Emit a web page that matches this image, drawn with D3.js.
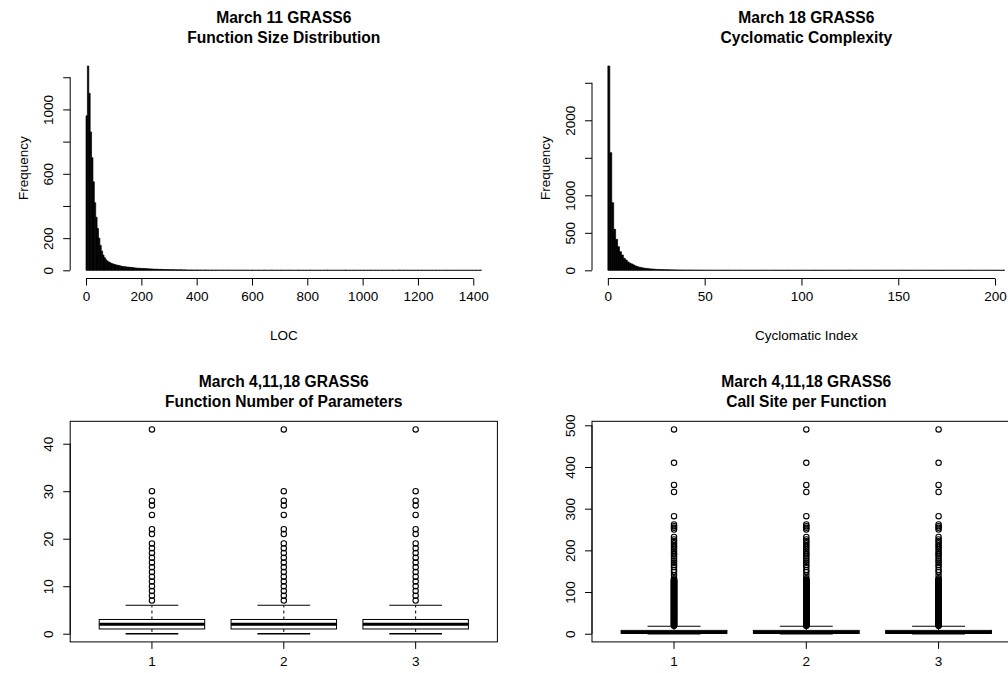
<!DOCTYPE html>
<html><head><meta charset="utf-8">
<script src="https://cdn.jsdelivr.net/npm/d3@7"></script>
<style>
body{margin:0;background:#fff;}
svg{display:block;font-family:"Liberation Sans",Arial,Helvetica,sans-serif;}
</style></head><body>
<svg id="c" width="1008" height="673"></svg>
<script>
// ---------- DATA ----------
// Panel 1: March 11 GRASS6, function size (LOC) histogram, bin width 5
const locBinWidth = 5;
const locCounts = [
 960,1270,1100,860,700,550,420,330,260,200,155,120,95,78,66,
 58,52,47,43,40,37,34,32,30,28,26,24,23,22,21,
 20,19,18,17,16,15,14,13,13,12,
 12,11,11,10,10,9,9,8,8,7,
 7,7,6,6,6,5,5,5,5,4,
 4,4,4,4,3,3,3,3,3,3,2,3,2,2,2,2,2,2,1,2,
 2,1,2,1,1,1,2,1,1,1,1,1,0,1,1,1,0,1,1,0,
 1,0,1,1,0,1,0,0,1,0,1,0,0,1,0,0,1,0,0,0,1,0,0,0,1,0,0,0,0,1,0,0,0,0,1,0,0,0,0,0,
 0,1,0,0,0,0,0,1,0,0, 0,0,0,1,0,0,0,0,0,0, 0,0,1,0,0,0,0,0,0,0, 0,0,0,0,1,0,0,0,0,0, 0,0,0,0,0,0,0,1,0,0, 0,0,0,0,0,0,0,0,0,0,
 0,0,0,0,0,1,0,0,0,0, 0,0,0,0,0,0,0,0,0,0, 0,0,0,0,0,0,1,0,0,0, 0,0,0,0,0,0,0,0,0,0, 0,0,0,0,0,0,0,0,0,0, 0,0,0,0,0,0,0,0,0,0, 0,0,0,0,0,0,0,0,0,0, 0,0,0,0,0,0,0,0,0,0, 0,0,0,0,0,1
];
const locXTicks = [0,200,400,600,800,1000,1200,1400];
const locYTicks = [0,200,400,600,800,1000,1200];
const locYLabels = [0,200,600,1000];

// Panel 2: March 18 GRASS6, cyclomatic complexity histogram, bin width 1
const ccBinWidth = 1;
const ccCounts = [
 2724,1568,901,547,413,315,248,204,160,137,111,95,84,70,57,48,40,35,30,26,
 23,20,18,16,14,12,11,10,9,8,8,7,6,6,5,5,4,4,4,3,
 3,3,3,2,2,2,2,2,1,2,1,1,1,1,1,1,0,1,1,0,
 1,0,1,0,0,1,0,0,1,0, 0,1,0,0,0,1,0,0,0,0, 1,0,0,0,0,0,1,0,0,0, 0,0,0,1,0,0,0,0,0,0,
 0,0,0,0,0,0,1,0,0,0, 0,0,0,0,0,0,0,0,0,0, 0,0,0,0,0,1,0,0,0,0, 0,0,0,0,0,0,0,0,0,0,
 0,0,0,0,0,0,0,0,0,0, 0,0,0,0,0,0,0,0,0,0, 0,0,0,0,0,0,0,0,0,0, 0,0,0,0,0,0,0,0,0,0,
 0,0,0,0,0,0,0,0,0,0, 0,0,0,0,0,0,0,0,0,0, 0,0,0,0,1
];
const ccXTicks = [0,50,100,150,200];
const ccYTicks = [0,500,1000,1500,2000,2500];
const ccYLabels = [0,500,1000,2000];

// Panel 3: number of parameters, boxplots for March 4, 11, 18
const boxGroups = ["1","2","3"];
const paramStats = [[0,1,2,3,6],[0,1,2,3,6],[0,1,2,3,6]]; // whiskerLow, Q1, median, Q3, whiskerHigh
const paramOutliers = [7,8,9,10,11,12,13,14,15,16,17,18,19,21,22,25,27,28,30,43];
const paramYTicks = [0,10,20,30,40];

// Panel 4: call sites per function, boxplots
const callStats = [[0,1,3,8,18],[0,1,3,8,18],[0,1,3,8,18]];
const callOutliers = [
 19,20,21,22,23,24,25,26,27,28,29,30,31,32,33,34,35,36,37,38,39,40,41,42,43,44,45,46,47,48,49,50,
 51,52,53,54,55,56,57,58,59,60,61,62,63,64,65,66,67,68,69,70,71,72,73,74,75,76,77,78,79,80,
 81,82,83,84,85,86,87,88,89,90,91,92,93,94,95,96,97,98,99,100,101,102,103,104,105,106,107,108,109,110,
 111,112,113,114,115,116,117,118,119,120,121,122,123,124,125,126,127,128,129,130,
 133,140,148,153,160,165,170,175,180,185,190,193,198,203,208,212,217,222,226,232,
 250,254,258,262,282,340,357,410,490
];
const callYTicks = [0,100,200,300,400,500];

// ---------- LAYOUT ----------
const svg = d3.select("#c");
const cols = [[70.2,497.4],[592,1020.6]];
const rows = [[57.8,278.5],[421.3,641.9]];
const FS = 13.5, TFS = 15.6;
const ink = "#000";

function rScale(lo, hi, r0, r1){
  const p = 0.04*(hi-lo);
  return d3.scaleLinear().domain([lo-p, hi+p]).range([r0, r1]);
}

function titles(cx, top, l1, l2){
  svg.append("text").attr("x",cx).attr("y",top-34.8).attr("text-anchor","middle")
    .attr("font-size",TFS).attr("font-weight","bold").text(l1);
  svg.append("text").attr("x",cx).attr("y",top-14.8).attr("text-anchor","middle")
    .attr("font-size",TFS).attr("font-weight","bold").text(l2);
}

function xAxis(x, yPos, ticks, fmt){
  const ax = d3.axisBottom(x).tickValues(ticks).tickSize(7).tickPadding(6.3).tickFormat(fmt||(d=>d));
  const g = svg.append("g").attr("transform",`translate(0,${yPos})`).call(ax);
  g.select(".domain").remove();
  g.selectAll("line").attr("stroke",ink);
  g.selectAll("text").attr("font-size",FS).attr("font-family",null).attr("fill",ink);
  g.append("line").attr("x1",x(ticks[0])).attr("x2",x(ticks[ticks.length-1]))
    .attr("y1",0).attr("y2",0).attr("stroke",ink);
  return g;
}

function yAxis(y, xPos, ticks, labels){
  const ax = d3.axisLeft(y).tickValues(ticks).tickSize(7)
    .tickFormat(d => labels.includes(d) ? d : "");
  const g = svg.append("g").attr("transform",`translate(${xPos},0)`).call(ax);
  g.select(".domain").remove();
  g.selectAll("line").attr("stroke",ink);
  g.selectAll("text").attr("font-size",FS).attr("font-family",null).attr("fill",ink)
    .attr("transform","rotate(-90)").attr("x",0).attr("y",-17).attr("dy",0)
    .attr("text-anchor","middle");
  g.append("line").attr("y1",y(ticks[0])).attr("y2",y(ticks[ticks.length-1]))
    .attr("x1",0).attr("x2",0).attr("stroke",ink);
  return g;
}

function hist(ci, ri, counts, bw, xTicks, yTicks, yLabels, t1, t2, xlab){
  const [L,R] = cols[ci], [T,B] = rows[ri];
  const x = rScale(0, counts.length*bw, L, R);
  const y = rScale(0, d3.max(counts), B, T);
  svg.append("g").selectAll("path").data(counts).join("path")
    .attr("d",(c,i)=>{
      const x0=x(i*bw), x1=x((i+1)*bw), y0=y(0), y1=y(c);
      return `M${x0},${y0}V${y1}H${x1}V${y0}Z`;
    })
    .attr("fill",ink).attr("stroke",ink).attr("stroke-width",0.7);
  xAxis(x, B, xTicks);
  yAxis(y, L, yTicks, yLabels);
  titles((L+R)/2, T, t1, t2);
  svg.append("text").attr("x",(L+R)/2).attr("y",B+61).attr("text-anchor","middle")
    .attr("font-size",FS).text(xlab);
  svg.append("text").attr("transform",`translate(${L-42},${(T+B)/2}) rotate(-90)`)
    .attr("text-anchor","middle").attr("font-size",FS).text("Frequency");
}

function boxes(ci, ri, stats, outliers, yTicks, t1, t2){
  const [L,R] = cols[ci], [T,B] = rows[ri];
  const x = rScale(0.5, 3.5, L, R);
  const ymax = d3.max([d3.max(outliers), d3.max(stats, s=>s[4])]);
  const y = rScale(0, ymax, B, T);
  const xb = d3.scaleBand().domain(boxGroups).range([x(0.5), x(3.5)]);
  const hw = 0.4*(x(1)-x(0)), cw = 0.2*(x(1)-x(0));
  stats.forEach((s,i)=>{
    const cx = xb(boxGroups[i]) + xb.bandwidth()/2;
    const g = svg.append("g");
    g.append("line").attr("x1",cx).attr("x2",cx).attr("y1",y(s[3])).attr("y2",y(s[4]))
      .attr("stroke",ink).attr("stroke-dasharray","3,3");
    g.append("line").attr("x1",cx).attr("x2",cx).attr("y1",y(s[1])).attr("y2",y(s[0]))
      .attr("stroke",ink).attr("stroke-dasharray","3,3");
    g.append("line").attr("x1",cx-cw).attr("x2",cx+cw).attr("y1",y(s[4])).attr("y2",y(s[4])).attr("stroke",ink).attr("stroke-width",1.2);
    g.append("line").attr("x1",cx-cw).attr("x2",cx+cw).attr("y1",y(s[0])).attr("y2",y(s[0])).attr("stroke",ink).attr("stroke-width",1.6);
    g.append("rect").attr("x",cx-hw).attr("width",2*hw).attr("y",y(s[3])).attr("height",y(s[1])-y(s[3]))
      .attr("fill","#fff").attr("stroke",ink);
    g.append("line").attr("x1",cx-hw).attr("x2",cx+hw).attr("y1",y(s[2])).attr("y2",y(s[2]))
      .attr("stroke",ink).attr("stroke-width",3);
    g.selectAll("circle").data(outliers).join("circle")
      .attr("cx",cx).attr("cy",d=>y(d)).attr("r",2.7)
      .attr("fill","none").attr("stroke",ink).attr("stroke-width",1.1);
  });
  svg.append("rect").attr("x",L).attr("y",T).attr("width",R-L).attr("height",B-T)
    .attr("fill","none").attr("stroke",ink);
  const xg = svg.append("g").attr("transform",`translate(0,${B})`)
    .call(d3.axisBottom(xb).tickSize(7).tickPadding(7.5));
  xg.select(".domain").remove();
  xg.selectAll("line").attr("stroke",ink);
  xg.selectAll("text").attr("font-size",FS).attr("font-family",null).attr("fill",ink);
  yAxis(y, L, yTicks, yTicks);
  titles((L+R)/2, T, t1, t2);
}

hist(0,0,locCounts,locBinWidth,locXTicks,locYTicks,locYLabels,"March 11 GRASS6","Function Size Distribution","LOC");
hist(1,0,ccCounts,ccBinWidth,ccXTicks,ccYTicks,ccYLabels,"March 18 GRASS6","Cyclomatic Complexity","Cyclomatic Index");
boxes(0,1,paramStats,paramOutliers,paramYTicks,"March 4,11,18 GRASS6","Function Number of Parameters");
boxes(1,1,callStats,callOutliers,callYTicks,"March 4,11,18 GRASS6","Call Site per Function");
</script></body></html>
